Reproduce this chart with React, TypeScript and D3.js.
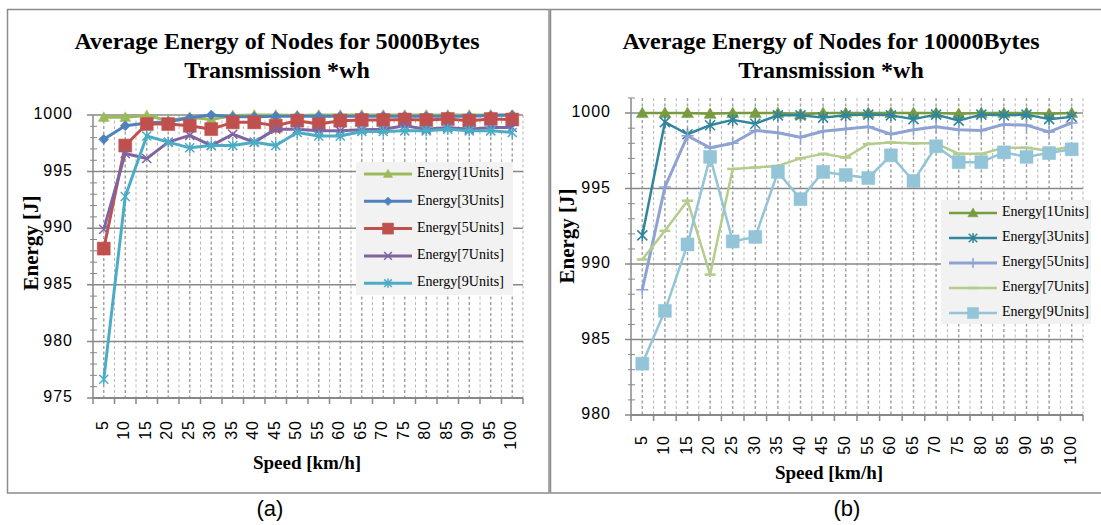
import { useEffect, useRef } from "react";
import * as d3 from "d3";

// categories
const speeds = ["5", "10", "15", "20", "25", "30", "35", "40", "45", "50", "55", "60", "65", "70", "75", "80", "85", "90", "95", "100"];
const unitLabels = ["Energy[1Units]", "Energy[3Units]", "Energy[5Units]", "Energy[7Units]", "Energy[9Units]"];

// (a) 5000 Bytes
const a1Units = [999.8, 999.8, 999.95, 999.5, 999.8, 999.6, 999.95, 1000, 1000, 999.95, 1000, 1000, 1000, 1000, 1000, 1000, 1000, 1000, 1000, 1000];
const a3Units = [997.85, 999.05, 999.3, 999.4, 999.75, 1000, 999.85, 999.85, 999.9, 999.9, 999.9, 999.9, 999.9, 999.9, 999.9, 999.9, 999.9, 999.9, 999.95, 1000];
const a5Units = [988.2, 997.3, 999.2, 999.2, 999.05, 998.75, 999.35, 999.35, 999.05, 999.5, 999.2, 999.5, 999.55, 999.55, 999.6, 999.55, 999.65, 999.5, 999.65, 999.6];
const a7Units = [989.9, 996.6, 996.15, 997.6, 998.2, 997.3, 998.3, 997.6, 998.75, 998.75, 998.6, 998.6, 998.7, 998.75, 999.05, 998.75, 998.9, 998.75, 998.9, 998.9];
const a9Units = [976.65, 992.8, 998.15, 997.6, 997.1, 997.3, 997.3, 997.6, 997.3, 998.45, 998.15, 998.15, 998.55, 998.55, 998.6, 998.6, 998.75, 998.6, 998.6, 998.45];
const aTicks = [975, 980, 985, 990, 995, 1000];

// (b) 10000 Bytes
const b1Units = [1000, 1000, 1000, 999.95, 1000, 1000, 1000, 999.9, 1000, 1000, 1000, 1000, 1000, 1000, 999.95, 1000, 1000, 1000, 999.95, 1000];
const b3Units = [991.9, 999.4, 998.6, 999.2, 999.55, 999.3, 999.85, 999.85, 999.7, 999.85, 999.9, 999.85, 999.6, 999.9, 999.5, 999.9, 999.85, 999.9, 999.6, 999.75];
const b5Units = [988.3, 995.1, 998.5, 997.7, 998.0, 998.85, 998.7, 998.4, 998.8, 998.95, 999.1, 998.6, 998.9, 999.1, 998.9, 998.85, 999.25, 999.2, 998.75, 999.35];
const b7Units = [990.3, 992.2, 994.2, 989.3, 996.3, 996.4, 996.5, 997.0, 997.3, 997.05, 997.95, 998.05, 998.0, 998.0, 997.3, 997.3, 997.7, 997.7, 997.5, 997.8];
const b9Units = [983.4, 986.9, 991.3, 997.1, 991.5, 991.8, 996.1, 994.3, 996.1, 995.9, 995.7, 997.2, 995.5, 997.8, 996.75, 996.75, 997.4, 997.1, 997.35, 997.6];
const bTicks = [980, 985, 990, 995, 1000];

type Marker = "triangle" | "diamond" | "square" | "x" | "asterisk" | "plus" | "dash";

interface Series {
  label: string;
  values: number[];
  color: string;
  marker: Marker;
  ms: number;
  lw: number;
}

interface Panel {
  title: string[];
  titleX: number;
  x0: number;
  x1: number;
  yTop: number;
  yBot: number;
  domain: [number, number];
  ticks: number[];
  series: Series[];
  legend: { x: number; y: number; w: number; h: number; y0: number; dy: number };
  yTitleX: number;
  yTitleY: number;
  xTitleX: number;
  xTitleY: number;
  xLabelY: number;
  caption: string;
  captionX: number;
}

function markerPath(type: Marker, s: number) {
  switch (type) {
    case "triangle":
      return `M0,${-s}L${s},${s * 0.75}L${-s},${s * 0.75}Z`;
    case "diamond":
      return `M0,${-s}L${s},0L0,${s}L${-s},0Z`;
    case "square":
      return `M${-s},${-s}H${s}V${s}H${-s}Z`;
    case "x":
      return `M${-s},${-s}L${s},${s}M${-s},${s}L${s},${-s}`;
    case "asterisk":
      return `M${-s},${-s}L${s},${s}M${-s},${s}L${s},${-s}M0,${-s * 1.2}L0,${s * 1.2}`;
    case "plus":
      return `M${-s},0L${s},0M0,${-s}L0,${s}`;
    case "dash":
      return `M${-s},0L${s},0`;
  }
}

const filled = (m: Marker) => m === "triangle" || m === "diamond" || m === "square";

const panels: Panel[] = [
  {
    title: ["Average Energy of Nodes for 5000Bytes", "Transmission *wh"],
    titleX: 277,
    x0: 93,
    x1: 523,
    yTop: 115,
    yBot: 398,
    domain: [975, 1000],
    ticks: aTicks,
    series: [
      { label: unitLabels[0], values: a1Units, color: "#9bbb59", marker: "triangle", ms: 5.5, lw: 3 },
      { label: unitLabels[1], values: a3Units, color: "#4f81bd", marker: "diamond", ms: 5, lw: 3 },
      { label: unitLabels[2], values: a5Units, color: "#c0504d", marker: "square", ms: 6.5, lw: 3 },
      { label: unitLabels[3], values: a7Units, color: "#8064a2", marker: "x", ms: 4.5, lw: 3 },
      { label: unitLabels[4], values: a9Units, color: "#4bacc6", marker: "asterisk", ms: 4.5, lw: 3 }
    ],
    legend: { x: 356, y: 162, w: 157, h: 133, y0: 174, dy: 27.3 },
    yTitleX: 33,
    yTitleY: 243,
    xTitleX: 307,
    xTitleY: 465,
    xLabelY: 420,
    caption: "(a)",
    captionX: 270
  },
  {
    title: ["Average Energy of Nodes for 10000Bytes", "Transmission *wh"],
    titleX: 831,
    x0: 631,
    x1: 1083,
    yTop: 98,
    yBot: 415,
    domain: [980, 1001],
    ticks: bTicks,
    series: [
      { label: unitLabels[0], values: b1Units, color: "#779b3e", marker: "triangle", ms: 6, lw: 2.5 },
      { label: unitLabels[1], values: b3Units, color: "#31859c", marker: "asterisk", ms: 5, lw: 2.5 },
      { label: unitLabels[2], values: b5Units, color: "#8fa3d3", marker: "plus", ms: 6, lw: 3 },
      { label: unitLabels[3], values: b7Units, color: "#b4cc8c", marker: "dash", ms: 5.5, lw: 2.5 },
      { label: unitLabels[4], values: b9Units, color: "#93c4d7", marker: "square", ms: 6.5, lw: 2.5 }
    ],
    legend: { x: 941, y: 200, w: 150, h: 124, y0: 213, dy: 25 },
    yTitleX: 569,
    yTitleY: 236,
    xTitleX: 829,
    xTitleY: 475,
    xLabelY: 435,
    caption: "(b)",
    captionX: 847
  }
];

const serif = "Liberation Serif, DejaVu Serif, Times New Roman, serif";
const sans = "Liberation Sans, Arial, sans-serif";

function drawMarker(g: d3.Selection<SVGGElement, unknown, null, undefined>, s: Series, x: number, y: number, ms = s.ms) {
  g.append("path")
    .attr("transform", `translate(${x},${y})`)
    .attr("d", markerPath(s.marker, ms))
    .attr("fill", filled(s.marker) ? s.color : "none")
    .attr("stroke", s.color)
    .attr("stroke-width", filled(s.marker) ? 0.5 : s.marker === "dash" ? 2.5 : 1.5);
}

function drawPanel(svg: d3.Selection<SVGSVGElement, unknown, null, undefined>, p: Panel) {
  const g = svg.append("g");
  const x = d3.scaleBand<string>().domain(speeds).range([p.x0, p.x1]);
  const y = d3.scaleLinear().domain(p.domain).range([p.yBot, p.yTop]);
  const cx = (d: string) => (x(d) ?? 0) + x.bandwidth() / 2;

  // title
  p.title.forEach((t, i) => {
    g.append("text")
      .attr("x", p.titleX)
      .attr("y", 43 + i * 29)
      .attr("text-anchor", "middle")
      .attr("dominant-baseline", "middle")
      .attr("font-family", serif)
      .attr("font-weight", "bold")
      .attr("font-size", 24)
      .text(t);
  });

  // vertical dashed grid (category centres and boundaries)
  const grid = g.append("g");
  speeds.forEach((d, i) => {
    const xs = [cx(d), x(d) ?? 0];
    xs.forEach((xx, k) => {
      if (i === 0 && k === 1) return;
      grid.append("line")
        .attr("x1", xx).attr("x2", xx)
        .attr("y1", p.yTop).attr("y2", p.yBot)
        .attr("stroke", k === 0 ? "#a3a3a3" : "#b8b8b8")
        .attr("stroke-width", k === 0 ? 1.5 : 1)
        .attr("stroke-dasharray", "3,2.5");
    });
  });
  grid.append("line")
    .attr("x1", p.x1).attr("x2", p.x1)
    .attr("y1", p.yTop).attr("y2", p.yBot)
    .attr("stroke", "#b8b8b8")
    .attr("stroke-dasharray", "3,2.5");

  // horizontal grid + y labels
  p.ticks.forEach((t) => {
    g.append("line")
      .attr("x1", p.x0 - 6).attr("x2", p.x1)
      .attr("y1", y(t)).attr("y2", y(t))
      .attr("stroke", "#888")
      .attr("stroke-width", 1.5);
    g.append("text")
      .attr("x", p.x0 - 20)
      .attr("y", y(t))
      .attr("text-anchor", "end")
      .attr("dominant-baseline", "middle")
      .attr("font-family", sans)
      .attr("font-size", 16)
      .attr("letter-spacing", 1)
      .text(t);
  });

  // minor y ticks
  d3.range(Math.ceil(p.domain[0]), Math.floor(p.domain[1]) + 1).forEach((v) => {
    if (v % 5 === 0) return;
    g.append("line")
      .attr("x1", p.x0 - 3).attr("x2", p.x0 + 4)
      .attr("y1", y(v)).attr("y2", y(v))
      .attr("stroke", "#888");
  });

  // axes
  g.append("line")
    .attr("x1", p.x0).attr("x2", p.x0)
    .attr("y1", p.yTop).attr("y2", p.yBot)
    .attr("stroke", "#888").attr("stroke-width", 1.5);
  g.append("line")
    .attr("x1", p.x0).attr("x2", p.x1)
    .attr("y1", p.yBot).attr("y2", p.yBot)
    .attr("stroke", "#888").attr("stroke-width", 2);
  [...speeds.map((d) => x(d) ?? 0), p.x1].forEach((xx) => {
    g.append("line")
      .attr("x1", xx).attr("x2", xx)
      .attr("y1", p.yBot).attr("y2", p.yBot + 6)
      .attr("stroke", "#888").attr("stroke-width", 1.5);
  });

  // x labels
  speeds.forEach((d) => {
    g.append("text")
      .attr("transform", `translate(${cx(d)},${p.xLabelY}) rotate(-90)`)
      .attr("text-anchor", "end")
      .attr("dominant-baseline", "middle")
      .attr("font-family", sans)
      .attr("font-size", 16)
      .attr("letter-spacing", 1)
      .text(d);
  });

  // series
  const line = d3.line<number>()
    .x((_, i) => cx(speeds[i]))
    .y((v) => y(v));
  p.series.forEach((s) => {
    const sg = g.append("g");
    sg.append("path")
      .attr("d", line(s.values) ?? "")
      .attr("fill", "none")
      .attr("stroke", s.color)
      .attr("stroke-width", s.lw)
      .attr("stroke-linejoin", "round");
    s.values.forEach((v, i) => drawMarker(sg, s, cx(speeds[i]), y(v)));
  });

  // legend
  const L = p.legend;
  const lg = g.append("g");
  lg.append("rect")
    .attr("x", L.x).attr("y", L.y)
    .attr("width", L.w).attr("height", L.h)
    .attr("fill", "#f2f2f2");
  p.series.forEach((s, i) => {
    const ly = L.y0 + i * L.dy;
    lg.append("line")
      .attr("x1", L.x + 8).attr("x2", L.x + 56)
      .attr("y1", ly).attr("y2", ly)
      .attr("stroke", s.color)
      .attr("stroke-width", s.lw);
    drawMarker(lg, s, L.x + 32, ly, s.ms * 0.85);
    lg.append("text")
      .attr("x", L.x + 61)
      .attr("y", ly)
      .attr("dominant-baseline", "middle")
      .attr("font-family", serif)
      .attr("font-size", 14)
      .text(s.label);
  });

  // axis titles
  g.append("text")
    .attr("transform", `translate(${p.yTitleX},${p.yTitleY}) rotate(-90)`)
    .attr("text-anchor", "middle")
    .attr("dominant-baseline", "middle")
    .attr("font-family", serif)
    .attr("font-weight", "bold")
    .attr("font-size", 21)
    .text("Energy [J]");
  g.append("text")
    .attr("x", p.xTitleX)
    .attr("y", p.xTitleY)
    .attr("text-anchor", "middle")
    .attr("dominant-baseline", "middle")
    .attr("font-family", serif)
    .attr("font-weight", "bold")
    .attr("font-size", 19)
    .text("Speed [km/h]");

  // caption
  g.append("text")
    .attr("x", p.captionX)
    .attr("y", 516)
    .attr("text-anchor", "middle")
    .attr("font-family", sans)
    .attr("font-size", 22)
    .text(p.caption);
}

export default function App() {
  const svgRef = useRef<SVGSVGElement>(null);

  useEffect(() => {
    if (!svgRef.current) return;
    const svg = d3.select(svgRef.current);
    svg.selectAll("*").remove();

    // panel frames
    svg.append("rect")
      .attr("x", 7.5).attr("y", 9.5)
      .attr("width", 541.5).attr("height", 483.5)
      .attr("fill", "none")
      .attr("stroke", "#8c8c8c")
      .attr("stroke-width", 1.5);
    svg.append("path")
      .attr("d", "M1101,9.5H550.5V493H1101")
      .attr("fill", "none")
      .attr("stroke", "#8c8c8c")
      .attr("stroke-width", 1.5);

    panels.forEach((p) => drawPanel(svg, p));
  }, []);

  return (
    <div style={{ position: "absolute", left: 0, top: 0 }}>
      <svg ref={svgRef} width={1101} height={525} style={{ display: "block", background: "#fff" }} />
    </div>
  );
}
